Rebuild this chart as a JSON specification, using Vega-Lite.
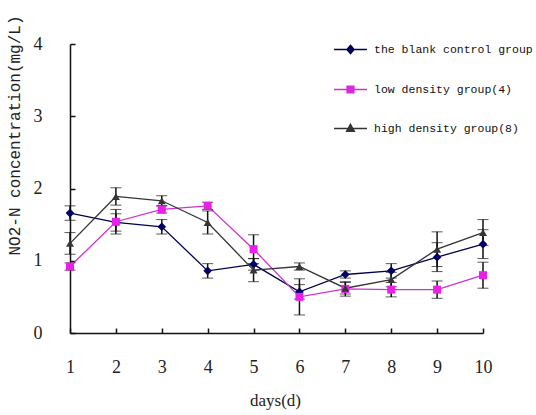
{
  "$schema": "https://vega.github.io/schema/vega-lite/v6.json",
  "autosize": "none",
  "width": 413,
  "height": 289,
  "padding": {"left": 70, "top": 44, "right": 53, "bottom": 82},
  "background": "white",
  "config": {
    "view": {"stroke": null},
    "axis": {
      "grid": false,
      "domainColor": "#111",
      "domainWidth": 1.5,
      "tickColor": "#111",
      "tickWidth": 1.5,
      "labelFont": "Liberation Serif",
      "labelFontSize": 18,
      "labelColor": "#222",
      "labelFlush": false,
      "titleFont": "Liberation Mono",
      "titleFontWeight": "normal",
      "titleColor": "#222"
    }
  },
  "data": {
    "values": [
      {"day": 1, "group": "the blank control group", "mean": 1.66, "err": 0.10},
      {"day": 2, "group": "the blank control group", "mean": 1.53, "err": 0.12},
      {"day": 3, "group": "the blank control group", "mean": 1.47, "err": 0.10},
      {"day": 4, "group": "the blank control group", "mean": 0.86, "err": 0.10},
      {"day": 5, "group": "the blank control group", "mean": 0.95, "err": 0.08},
      {"day": 6, "group": "the blank control group", "mean": 0.57, "err": 0.10},
      {"day": 7, "group": "the blank control group", "mean": 0.81, "err": 0.05},
      {"day": 8, "group": "the blank control group", "mean": 0.86, "err": 0.10},
      {"day": 9, "group": "the blank control group", "mean": 1.05, "err": 0.20},
      {"day": 10, "group": "the blank control group", "mean": 1.23, "err": 0.20},
      {"day": 1, "group": "low density group(4)", "mean": 0.92, "err": 0.05},
      {"day": 2, "group": "low density group(4)", "mean": 1.54, "err": 0.17},
      {"day": 3, "group": "low density group(4)", "mean": 1.71, "err": 0.05},
      {"day": 4, "group": "low density group(4)", "mean": 1.76, "err": 0.05},
      {"day": 5, "group": "low density group(4)", "mean": 1.16, "err": 0.20},
      {"day": 6, "group": "low density group(4)", "mean": 0.50, "err": 0.25},
      {"day": 7, "group": "low density group(4)", "mean": 0.61, "err": 0.10},
      {"day": 8, "group": "low density group(4)", "mean": 0.60, "err": 0.10},
      {"day": 9, "group": "low density group(4)", "mean": 0.60, "err": 0.12},
      {"day": 10, "group": "low density group(4)", "mean": 0.80, "err": 0.18},
      {"day": 1, "group": "high density group(8)", "mean": 1.24, "err": 0.15},
      {"day": 2, "group": "high density group(8)", "mean": 1.89, "err": 0.12},
      {"day": 3, "group": "high density group(8)", "mean": 1.83, "err": 0.07},
      {"day": 4, "group": "high density group(8)", "mean": 1.53, "err": 0.16},
      {"day": 5, "group": "high density group(8)", "mean": 0.87, "err": 0.16},
      {"day": 6, "group": "high density group(8)", "mean": 0.92, "err": 0.05},
      {"day": 7, "group": "high density group(8)", "mean": 0.62, "err": 0.08},
      {"day": 8, "group": "high density group(8)", "mean": 0.74, "err": 0.10},
      {"day": 9, "group": "high density group(8)", "mean": 1.16, "err": 0.24},
      {"day": 10, "group": "high density group(8)", "mean": 1.39, "err": 0.18}
    ]
  },
  "encoding": {
    "x": {
      "field": "day",
      "type": "quantitative",
      "scale": {"domain": [1, 10], "nice": false, "zero": false},
      "axis": {
        "values": [1, 2, 3, 4, 5, 6, 7, 8, 9, 10],
        "tickSize": -5,
        "labelPadding": 30,
        "title": "days(d)",
        "titleFont": "Liberation Serif",
        "titleFontSize": 17,
        "titleX": 205,
        "titleY": 67,
        "titleBaseline": "middle"
      }
    },
    "y": {
      "field": "mean",
      "type": "quantitative",
      "scale": {"domain": [0, 4], "nice": false},
      "axis": {
        "values": [0, 1, 2, 3, 4],
        "tickSize": -5,
        "labelPadding": 33,
        "title": "NO2-N concentration(mg/L)",
        "titleFontSize": 16,
        "titleX": -56,
        "titleY": 91,
        "titleAngle": -90,
        "titleAlign": "center",
        "titleBaseline": "middle"
      }
    }
  },
  "layer": [
    {
      "transform": [{"filter": "datum.group === 'the blank control group'"}],
      "mark": {"type": "line", "strokeWidth": 1.3, "color": "#000050"}
    },
    {
      "transform": [{"filter": "datum.group === 'low density group(4)'"}],
      "mark": {"type": "line", "strokeWidth": 1.3, "color": "#d030d0"}
    },
    {
      "transform": [{"filter": "datum.group === 'high density group(8)'"}],
      "mark": {"type": "line", "strokeWidth": 1.3, "color": "#333333"}
    },
    {
      "mark": {"type": "errorbar", "color": "#111", "ticks": {"size": 11, "color": "#111", "strokeWidth": 1.5}, "rule": {"strokeWidth": 1.5}},
      "encoding": {
        "yError": {"field": "err"},
        "detail": {"field": "group", "type": "nominal"}
      }
    },
    {
      "transform": [{"filter": "datum.group === 'the blank control group'"}],
      "mark": {"type": "point", "filled": true, "opacity": 1, "size": 75, "shape": "diamond", "color": "#000068"}
    },
    {
      "transform": [{"filter": "datum.group === 'low density group(4)'"}],
      "mark": {"type": "point", "filled": true, "opacity": 1, "size": 64, "shape": "square", "color": "#e820e8"}
    },
    {
      "transform": [{"filter": "datum.group === 'high density group(8)'"}],
      "mark": {"type": "point", "filled": true, "opacity": 1, "size": 64, "shape": "triangle-up", "color": "#363636"}
    },
    {
      "transform": [{"filter": "datum.day > 100"}],
      "mark": {"type": "point", "filled": true, "opacity": 1},
      "encoding": {
        "fill": {"field": "group", "type": "nominal",
          "scale": {"domain": ["the blank control group", "low density group(4)", "high density group(8)"],
                    "range": ["#000068", "#e820e8", "#363636"]},
          "legend": {
            "title": null,
            "orient": "none",
            "legendX": 263,
            "legendY": -12,
            "symbolSize": 1089,
            "symbolStrokeWidth": 1.3,
            "symbolOpacity": 1,
            "rowPadding": 15,
            "labelOffset": 6,
            "labelFont": "Liberation Mono",
            "labelFontSize": 11.5,
            "labelColor": "#111",
            "labelLimit": 300
          }
        },
        "stroke": {"field": "group", "type": "nominal",
          "scale": {"domain": ["the blank control group", "low density group(4)", "high density group(8)"],
                    "range": ["#000050", "#d030d0", "#333333"]},
          "legend": {"title": null}
        },
        "shape": {"field": "group", "type": "nominal",
          "scale": {"domain": ["the blank control group", "low density group(4)", "high density group(8)"],
                    "range": ["M-1,0H1M0,-0.26L0.22,0L0,0.26L-0.22,0Z", "M-1,0H1M-0.21,-0.21H0.21V0.21H-0.21Z", "M-1,0H1M0,-0.26L0.24,0.18H-0.24Z"]},
          "legend": {"title": null}
        }
      }
    }
  ]
}
